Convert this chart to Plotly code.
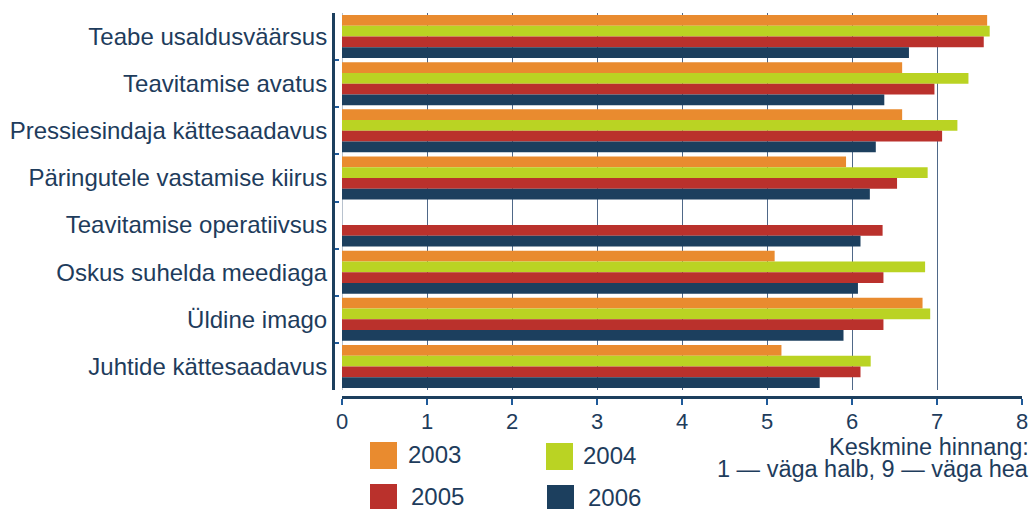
import plotly.graph_objects as go

categories = [
    "Teabe usaldusväärsus",
    "Teavitamise avatus",
    "Pressiesindaja kättesaadavus",
    "Päringutele vastamise kiirus",
    "Teavitamise operatiivsus",
    "Oskus suhelda meediaga",
    "Üldine imago",
    "Juhtide kättesaadavus",
]
years = ["2003", "2004", "2005", "2006"]
v2003 = [7.59, 6.59, 6.59, 5.93, None, 5.09, 6.83, 5.17]
v2004 = [7.62, 7.37, 7.24, 6.89, None, 6.86, 6.92, 6.22]
v2005 = [7.55, 6.97, 7.06, 6.53, 6.36, 6.37, 6.37, 6.10]
v2006 = [6.67, 6.38, 6.28, 6.21, 6.10, 6.07, 5.90, 5.62]
series = [v2003, v2004, v2005, v2006]
colors = ["#E98B2F", "#BAD323", "#BA312C", "#1C3F5E"]
xticks = [0, 1, 2, 3, 4, 5, 6, 7, 8]
axis_title_lines = ["Keskmine hinnang:", "1 — väga halb, 9 — väga hea"]

W, H = 1033, 509
L, R, T, B = 333, 11, 13, 112
navy = "#1C3F5E"
txt = "#1E3C5C"
font = "Liberation Sans, Arial, sans-serif"

fig = go.Figure()
for name, vals, c in zip(years, series, colors):
    fig.add_trace(go.Bar(
        y=categories, x=vals, name=name, orientation="h",
        marker=dict(color=c, line=dict(width=0)), showlegend=False,
    ))

def px_x(p):
    return (p - L) / (W - L - R)

def px_y(p):
    return (H - B - p) / (H - T - B)

# legend (manual swatches, 2 x 2)
leg_pos = [(370, 442, 406), (546, 443, 581), (370, 484, 409), (547, 485, 586)]
for (x0, y0, tx), name, c in zip(leg_pos, years, colors):
    fig.add_shape(type="rect", xref="paper", yref="paper",
                  x0=px_x(x0), x1=px_x(x0 + 27), y0=px_y(y0), y1=px_y(y0 + 27),
                  fillcolor=c, line=dict(width=0))
    fig.add_annotation(xref="paper", yref="paper", x=px_x(tx), y=px_y(y0 + 12),
                       text=name, showarrow=False, xanchor="left", yanchor="middle",
                       font=dict(family=font, size=24, color=txt))

for i, (line, yc) in enumerate(zip(axis_title_lines, [447, 469])):
    fig.add_annotation(xref="paper", yref="paper", x=px_x(1031), y=px_y(yc),
                       text=line, showarrow=False, xanchor="right", yanchor="middle",
                       font=dict(family=font, size=23.5, color=txt))

fig.update_layout(
    width=W, height=H,
    margin=dict(l=L, r=R, t=T, b=B, pad=0, autoexpand=False),
    paper_bgcolor="white", plot_bgcolor="white",
    barmode="group", bargap=0.085, bargroupgap=0,
    font=dict(family=font, size=20, color=txt),
    xaxis=dict(
        range=[0, 8], tickvals=xticks, domain=[9 / (W - L - R), 1],
        anchor="free", position=0, automargin=False,
        showline=True, linecolor=navy, linewidth=3,
        ticks="outside", ticklen=6, tickwidth=2, tickcolor="#1F5A9A",
        ticklabelstandoff=-2,
        showgrid=True, gridcolor="#4F6888", gridwidth=1,
        zeroline=True, zerolinecolor="#B8C2CE", zerolinewidth=1,
        tickfont=dict(family=font, size=22, color=txt),
    ),
    yaxis=dict(
        autorange="reversed", domain=[7 / (H - T - B), 1],
        anchor="free", position=0, automargin=False,
        showline=True, linecolor=navy, linewidth=3,
        ticks="inside", tickson="boundaries", ticklen=4, tickwidth=2, tickcolor="#1F5A9A",
        showgrid=False,
        tickfont=dict(family=font, size=24, color=txt),
    ),
)

fig.write_html("out.html", config={"displayModeBar": False},
               post_script="document.body.style.margin='0px';document.body.style.overflow='hidden';")
